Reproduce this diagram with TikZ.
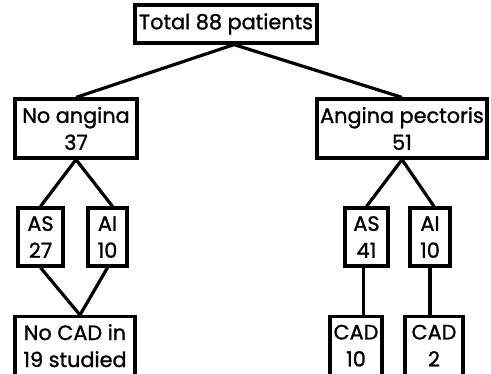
\documentclass[tikz,border=0pt]{standalone}
\usepackage{fontspec}
\setmainfont{Poppins}[FakeBold=1.2]
\begin{document}
\begin{tikzpicture}[x=1pt,y=-1pt,line width=3.2pt,
  box/.style={draw,inner sep=0pt,align=center,font=\fontsize{20.8}{27}\selectfont},
  lowbox/.style={box,minimum height=62,anchor=north,text depth=4pt}]
\clip (0,0) rectangle (491,373);
\useasboundingbox (0,0) rectangle (491,373);
\node[box,minimum width=182,minimum height=38] (total) at (226,24) {Total 88 patients};
\node[box,minimum width=122,minimum height=59] (noang) at (76,128.5) {No angina\\37};
\node[box,minimum width=170,minimum height=59] (ang) at (402,128.5) {Angina pectoris\\51};
\node[box,minimum width=45,minimum height=58] (asa) at (40.5,237) {AS\\27};
\node[box,minimum width=39,minimum height=58] (aia) at (107.5,237) {AI\\10};
\node[box,minimum width=43,minimum height=58] (asb) at (366.5,237) {AS\\41};
\node[box,minimum width=40,minimum height=58] (aib) at (430,237) {AI\\10};
\node[lowbox,minimum width=120] (nocad) at (75,315) {No CAD in\\19 studied};
\node[lowbox,minimum width=52] (cada) at (356,315) {CAD\\10};
\node[lowbox,minimum width=58] (cadb) at (434,315) {CAD\\2};
%%%%
\draw ([xshift=8]total.south) -- (noang.north);
\draw ([xshift=8]total.south) -- (ang.north);
\draw (noang.south) -- (asa.north);
\draw (noang.south) -- ([xshift=5]aia.north);
\draw (ang.south) -- (asb.north);
\draw (ang.south) -- ([xshift=4]aib.north);
\draw (asa.south) -- ([xshift=5]nocad.north);
\draw (aia.south) -- ([xshift=5]nocad.north);
\draw ([xshift=-3]asb.south) -- ([xshift=-3]asb.south |- cada.north);
\draw (aib.south) -- (aib.south |- cadb.north);
\end{tikzpicture}
\end{document}
